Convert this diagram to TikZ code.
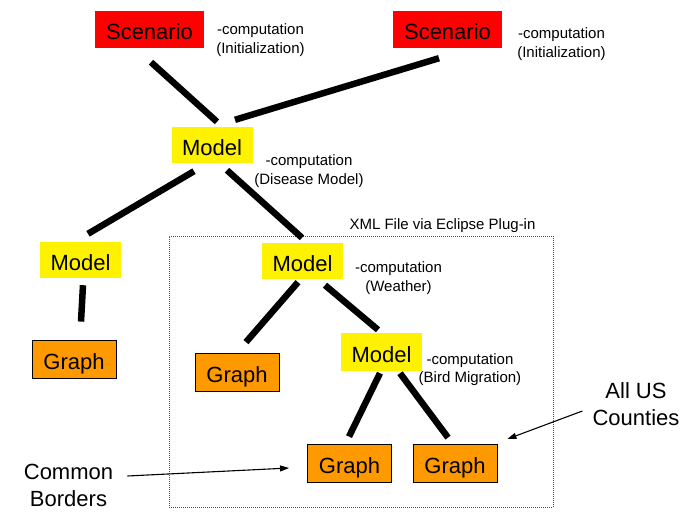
\documentclass[tikz,border=0pt]{standalone}
\usepackage{fontspec}
\setmainfont{Liberation Sans}
\usetikzlibrary{arrows.meta,positioning}

\begin{document}
\begin{tikzpicture}[
  x=1pt, y=-1pt,
  big/.style={font=\fontsize{22}{27}\selectfont},
  small/.style={font=\fontsize{15}{18.5}\selectfont, align=center, inner sep=0pt},
  boxtext/.style={big, text height=20pt, text depth=0pt, inner sep=0pt},
  scen/.style={boxtext, fill=red, minimum width=109pt, minimum height=37pt},
  model/.style={boxtext, fill=yellow, minimum width=81pt, minimum height=36pt},
  graph/.style={boxtext, draw, line width=0.8pt, fill={rgb,255:red,255;green,153;blue,0}, minimum width=84pt, minimum height=38pt},
  note/.style={big, align=center, inner sep=0pt},
  link/.style={line width=6.5pt},
  pointer/.style={-{Triangle[length=9pt,width=6pt]}, line width=1.1pt}
]
\useasboundingbox (0,0) rectangle (686,515);
% eclipse plug-in region
\node[draw, dash pattern=on 1pt off 1pt, line width=0.8pt, gray!60!black,
      minimum width=384pt, minimum height=271pt, inner sep=0pt] (xml) at (361,371.5) {};
\node[small] (xmltitle) at (442.5,225.5) {XML File via Eclipse Plug-in};
% boxes
\node[scen] (scen1) at (149.5,29.5) {Scenario};
\node[scen] (scen2) at (447.5,29.5) {Scenario};
\node[model] (disease) at (212,145) {Model};
\node[model] (modelL) at (80.5,260) {Model};
\node[graph] (graphL) at (74,359) {Graph};
\node[model] (weather) at (302.5,261) {Model};
\node[graph] (graphW) at (237,372.5) {Graph};
\node[model, minimum height=38pt] (bird) at (381.5,352) {Model};
\node[graph] (graphB1) at (349.5,463) {Graph};
\node[graph] (graphB2) at (455,463) {Graph};
% computation notes
\node[small] (scen1lab) at (260.5,40) {-computation\\(Initialization)};
\node[small] (scen2lab) at (561.5,44) {-computation\\(Initialization)};
\node[small] (diseaselab) at (309,171) {-computation\\(Disease Model)};
\node[small] (weatherlab) at (398.5,278) {-computation\\(Weather)};
\node[small] (birdlab) at (470,369.5) {-computation\\(Bird Migration)};
% callouts
\node[note] (borders) at (68.5,485.5) {Common\\Borders};
\node[note] (counties) at (636,404) {All US\\Counties};
% tree links
\draw[link] ([shift={(1.5,14)}]scen1.south) -- ([shift={(5,-5)}]disease.north);
\draw[link] ([shift={(-8.5,10)}]scen2.south) -- ([shift={(23,-7)}]disease.north);
\draw[link] ([shift={(-18,8)}]disease.south) -- ([shift={(7.5,-8)}]modelL.north);
\draw[link] ([shift={(15,7)}]disease.south) -- ([shift={(-0.5,-5)}]weather.north);
\draw[link] ([shift={(2.5,7)}]modelL.south) -- ([shift={(7,-18)}]graphL.north);
\draw[link] ([shift={(-4.5,3)}]weather.south) -- ([shift={(9,-11)}]graphW.north);
\draw[link] ([shift={(22.5,6)}]weather.south) -- ([shift={(-3.5,-3)}]bird.north);
\draw[link] ([shift={(-1.5,2)}]bird.south) -- ([shift={(-0.5,-7)}]graphB1.north);
\draw[link] ([shift={(18.5,2)}]bird.south) -- ([shift={(-7,-6)}]graphB2.north);
% callout arrows
\draw[pointer] ([shift={(14,-9.5)}]borders.east) -- ([shift={(-18,5)}]graphB1.west);
\draw[pointer] ([shift={(-10,7)}]counties.west) -- ([shift={(10,-24)}]graphB2.east);
\end{tikzpicture}
\end{document}
